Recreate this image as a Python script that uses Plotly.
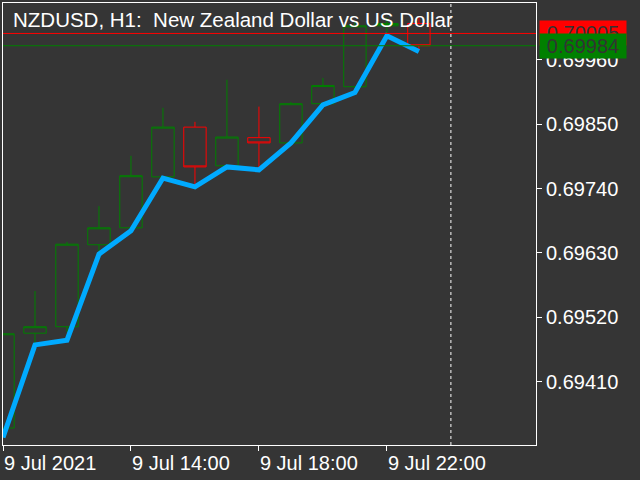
import plotly.graph_objects as go

# ---- data ----
hours = [10, 11, 12, 13, 14, 15, 16, 17, 18, 19, 20, 21, 22, 23]
open_ = [0.69331, 0.69493, 0.69504, 0.69644, 0.69673, 0.69760, 0.69845,
         0.69779, 0.69827, 0.69818, 0.69885, 0.69914, 0.70018, 0.70022]
high = [0.69492, 0.69565, 0.69649, 0.69710, 0.69796, 0.69878, 0.69854,
        0.69926, 0.69880, 0.69888, 0.69929, 0.70025, 0.70032, 0.70032]
low = [0.69327, 0.69476, 0.69495, 0.69632, 0.69669, 0.69758, 0.69743,
       0.69777, 0.69775, 0.69816, 0.69881, 0.69912, 0.70003, 0.69977]
close = [0.69492, 0.69504, 0.69645, 0.69673, 0.69762, 0.69845, 0.69777,
         0.69828, 0.69818, 0.69885, 0.69916, 0.70018, 0.70022, 0.69984]
line_vals = [0.69315, 0.69473, 0.69481, 0.69628, 0.69668, 0.69758, 0.69743,
             0.69777, 0.69772, 0.69818, 0.69883, 0.69904, 0.70001, 0.69974]

ask_price = 0.70005
bid_price = 0.69984
day_separator = 24

x_tickvals = [10, 14, 18, 22]
x_ticktext = ["9 Jul 2021", "9 Jul 14:00", "9 Jul 18:00", "9 Jul 22:00"]
y_tickvals = [0.69410, 0.69520, 0.69630, 0.69740, 0.69850, 0.69960]

title_text = "NZDUSD, H1:  New Zealand Dollar vs US Dollar"

BG = "#353535"
FONT = "Liberation Sans"

fig = go.Figure()

fig.add_trace(go.Candlestick(
    x=hours, open=open_, high=high, low=low, close=close,
    increasing=dict(line=dict(color="#008000", width=1), fillcolor="rgba(0,0,0,0)"),
    decreasing=dict(line=dict(color="#FF0000", width=1), fillcolor="rgba(0,0,0,0)"),
    whiskerwidth=0, showlegend=False, hoverinfo="skip",
))

fig.add_trace(go.Scatter(
    x=hours, y=line_vals, mode="lines",
    line=dict(color="#00AAFF", width=5),
    showlegend=False, hoverinfo="skip",
))

# ask / bid lines
fig.add_hline(y=ask_price, line=dict(color="#FF0000", width=1), opacity=1)
fig.add_hline(y=bid_price, line=dict(color="#008000", width=1), opacity=1)
# day separator
fig.add_vline(x=day_separator, line=dict(color="white", width=1, dash="3px,3px"), opacity=1)

# title
fig.add_annotation(
    text=title_text, xref="paper", yref="paper", x=0, y=1,
    xanchor="left", yanchor="top", xshift=8, yshift=-3,
    showarrow=False, font=dict(family=FONT, size=20.5, color="white"),
)

# price labels
for price, col in [(ask_price, "#FF0000"), (bid_price, "#008000")]:
    fig.add_annotation(
        text=f"{price:.5f}", xref="paper", yref="y", x=1, y=price,
        xanchor="left", yanchor="middle", xshift=3,
        showarrow=False, bgcolor=col, width=86, height=24, borderpad=0,
        align="center", font=dict(family=FONT, size=20, color="#333333"),
    )

fig.update_layout(
    width=640, height=480,
    margin=dict(l=3, r=104, t=3, b=35),
    paper_bgcolor=BG, plot_bgcolor=BG,
    font=dict(family=FONT, size=20, color="white"),
    showlegend=False,
    boxgap=0.3, boxgroupgap=0,
)

fig.update_xaxes(
    range=[10, 26.66], rangeslider_visible=False,
    tickvals=x_tickvals, ticktext=x_ticktext,
    ticks="outside", ticklen=5, tickcolor="white",
    ticklabelposition="outside right",
    showgrid=False, zeroline=False,
    showline=True, linecolor="white", linewidth=1, mirror=True,
    tickfont=dict(family=FONT, size=20, color="white"),
)
fig.update_yaxes(
    range=[0.69302, 0.70057], side="right",
    tickvals=y_tickvals, tickformat=".5f",
    ticks="outside", ticklen=5, tickcolor="white",
    showgrid=False, zeroline=False,
    showline=True, linecolor="white", linewidth=1, mirror=True,
    tickfont=dict(family=FONT, size=20, color="white"),
)

fig.write_html(
    "out.html",
    config={"displayModeBar": False},
    post_script="document.body.style.margin='0px';document.body.style.background='" + BG + "';",
)
